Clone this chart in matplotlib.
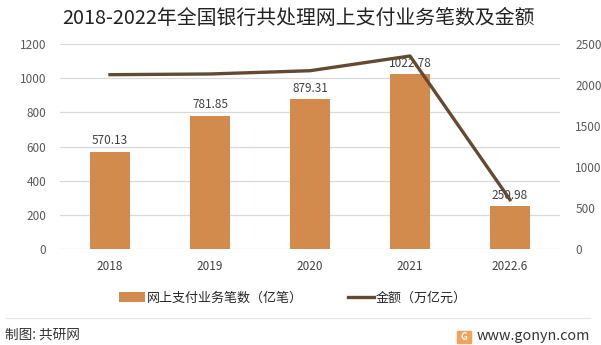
import matplotlib.pyplot as plt
import numpy as np

plt.rcParams['font.family'] = ['Noto Sans CJK SC', 'DejaVu Sans']

years = ['2018', '2019', '2020', '2021', '2022.6']
counts = [570.13, 781.85, 879.31, 1022.78, 250.98]
amounts = [2126.30, 2134.84, 2174.54, 2353.96, 604.0]

barColor = '#D38B4D'
lineColor = '#654A32'
gridColor = '#D9D9D9'
textColor = '#595959'

fig = plt.figure(figsize=(6.01, 3.45), dpi=100)
ax = fig.add_axes([60/601, (345-249.3)/345, 500/601, 205.3/345])
ax2 = ax.twinx()

x = np.arange(len(years))
ax.bar(x, counts, width=0.4, color=barColor, zorder=2, label='网上支付业务笔数（亿笔）')
for xi, v in zip(x, counts):
    ax.text(xi, v + 25, '%.2f' % v, ha='center', va='bottom', fontsize=8.5, color='#404040', zorder=1)

ax.set_xlim(-0.5, len(years) - 0.5)
ax.set_ylim(0, 1200)
ax.set_yticks(range(0, 1201, 200))
ax.grid(axis='y', color=gridColor, linewidth=0.9, zorder=0)
ax.set_axisbelow(True)
ax.set_xticks(x)
ax.set_xticklabels(years)

ax2.plot(x, amounts, color=lineColor, linewidth=2.4, zorder=3, label='金额（万亿元）')
ax2.set_ylim(0, 2500)
ax2.set_yticks(range(0, 2501, 500))

for a in (ax, ax2):
    for s in a.spines.values():
        s.set_visible(False)
    a.tick_params(length=0, labelsize=8.5, colors=textColor)
ax.tick_params(axis='y', pad=10)
ax2.tick_params(axis='y', pad=11)
ax.tick_params(axis='x', pad=8, colors='#404040')
ax.set_zorder(ax2.get_zorder() - 1)
ax.patch.set_visible(False)
ax2.patch.set_visible(False)

fig.text(62/601, 1 - 18/345, '2018-2022年全国银行共处理网上支付业务笔数及金额', ha='left', va='center',
         fontsize=14.3, color='#222222')

h1, l1 = ax.get_legend_handles_labels()
h2, l2 = ax2.get_legend_handles_labels()
fig.legend(h1 + h2, l1 + l2, loc='center', bbox_to_anchor=(293/601, 1 - 298/345), ncol=2, frameon=False,
           fontsize=9.4, handlelength=2.0, handletextpad=0.15, columnspacing=3.4, labelcolor='#262626')

fig.add_artist(plt.Line2D([5/601, 590/601], [1 - 318/345, 1 - 318/345], color='#E6E6E6', linewidth=0.8))
fig.text(5/601, 1 - 335/345, '制图: 共研网', ha='left', va='center', fontsize=9.8, color='#333333')
fig.text(590/601, 1 - 336/345, 'www.gonyn.com', ha='right', va='center', fontsize=10.3, color='#333333')
fig.patches.append(plt.Rectangle((457/601, 1 - 343/345), 14/601, 12/345, transform=fig.transFigure,
                                 color='#F2A25A', figure=fig))
fig.text(464/601, 1 - 337/345, 'G', ha='center', va='center', fontsize=7, color='white', fontweight='bold')

fig.savefig('out.png', dpi=100)
